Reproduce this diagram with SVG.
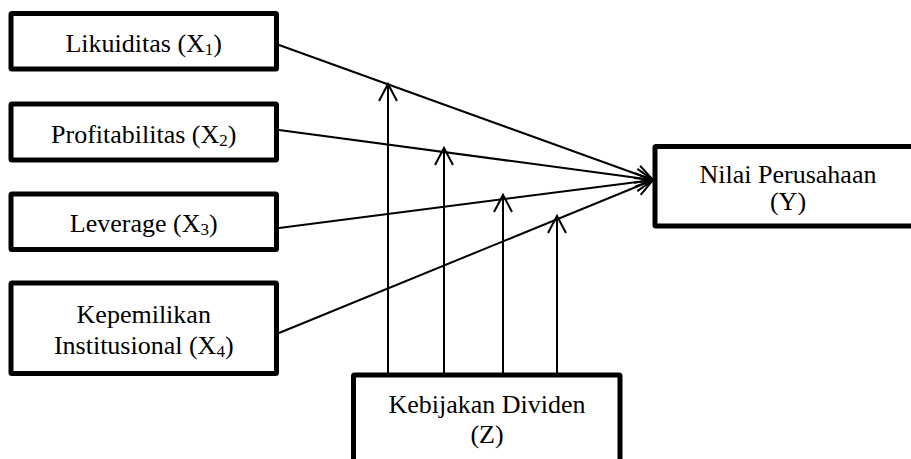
<svg xmlns="http://www.w3.org/2000/svg" width="911" height="459" viewBox="0 0 911 459">
<style>
.box{fill:#fff;stroke:#000;stroke-width:5;}
.t{font-family:"Liberation Serif","Times New Roman",serif;font-size:26px;fill:#000;text-anchor:middle;}
.s{font-size:17px;}
.c{stroke:#000;stroke-width:2;fill:none;}
</style>
<defs>
<marker id="ah" markerUnits="userSpaceOnUse" markerWidth="24" markerHeight="24" viewBox="-20 -12 24 24" refX="0" refY="0" orient="auto" overflow="visible">
<path d="M-17,-9 L0,0 L-17,9" fill="none" stroke="#000" stroke-width="2"/>
</marker>
</defs>
<g id="connectors">
<line class="c" x1="279" y1="45" x2="653" y2="180" marker-end="url(#ah)"/>
<line class="c" x1="279" y1="130" x2="653" y2="180" marker-end="url(#ah)"/>
<line class="c" x1="279" y1="228" x2="653" y2="180" marker-end="url(#ah)"/>
<line class="c" x1="279" y1="333" x2="653" y2="180" marker-end="url(#ah)"/>
<line class="c" x1="388" y1="373" x2="388" y2="84" marker-end="url(#ah)"/>
<line class="c" x1="444" y1="373" x2="444" y2="148" marker-end="url(#ah)"/>
<line class="c" x1="503" y1="373" x2="503" y2="195" marker-end="url(#ah)"/>
<line class="c" x1="557" y1="373" x2="557" y2="216" marker-end="url(#ah)"/>
</g>
<g id="x1">
<rect class="box" x="11" y="13.5" width="265.5" height="55.5" rx="1"/>
<text class="t" x="143.75" y="52">Likuiditas (X<tspan class="s" dy="3">1</tspan><tspan dy="-3">)</tspan></text>
</g>
<g id="x2">
<rect class="box" x="11" y="104" width="265.5" height="56" rx="1"/>
<text class="t" x="143.75" y="143">Profitabilitas (X<tspan class="s" dy="3">2</tspan><tspan dy="-3">)</tspan></text>
</g>
<g id="x3">
<rect class="box" x="11" y="194" width="265.5" height="55.5" rx="1"/>
<text class="t" x="143.75" y="232">Leverage (X<tspan class="s" dy="3">3</tspan><tspan dy="-3">)</tspan></text>
</g>
<g id="x4">
<rect class="box" x="11" y="283" width="265.5" height="90.5" rx="1"/>
<text class="t" x="143.75" y="323">Kepemilikan</text>
<text class="t" x="143.75" y="354">Institusional (X<tspan class="s" dy="3">4</tspan><tspan dy="-3">)</tspan></text>
</g>
<g id="y">
<rect class="box" x="655" y="146.5" width="270" height="79.5" rx="1"/>
<text class="t" x="788" y="183">Nilai Perusahaan</text>
<text class="t" x="788" y="210">(Y)</text>
</g>
<g id="z">
<rect class="box" x="353.5" y="375" width="266.5" height="110" rx="1"/>
<text class="t" x="487" y="413">Kebijakan Dividen</text>
<text class="t" x="487" y="443">(Z)</text>
</g>
</svg>
